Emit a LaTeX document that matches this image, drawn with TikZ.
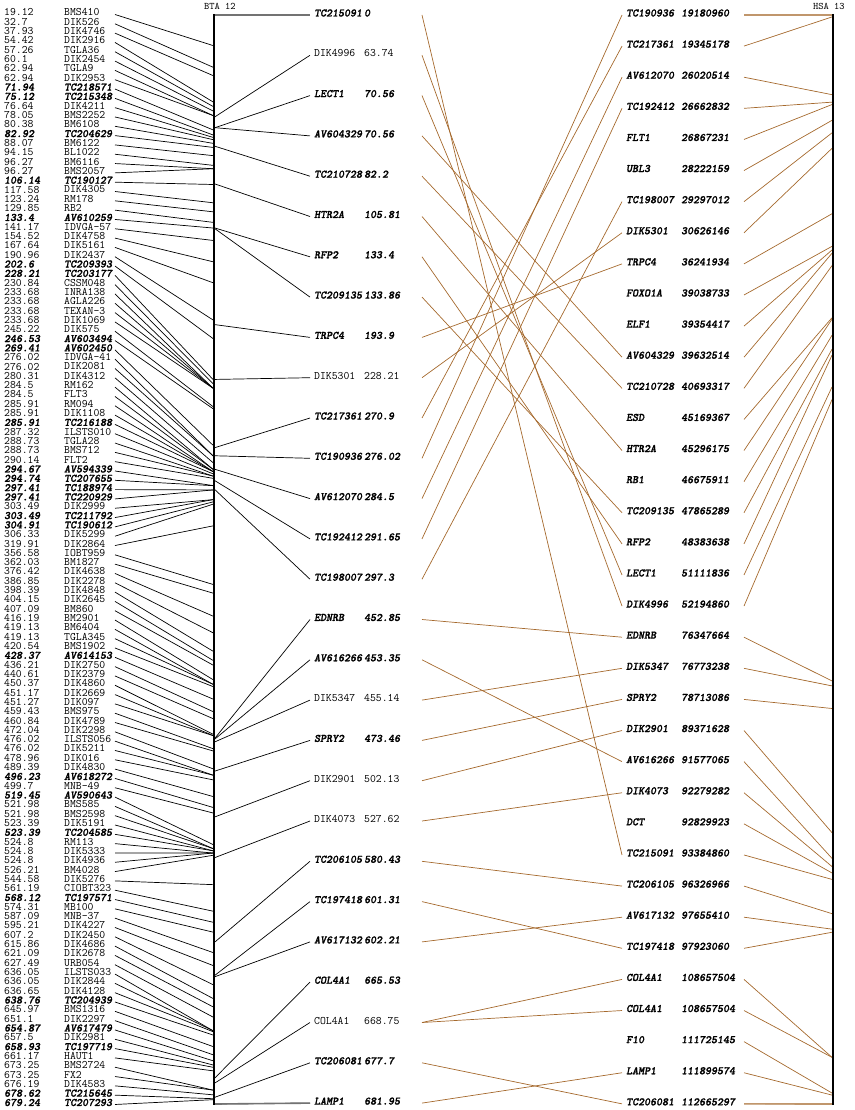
\documentclass[tikz,border=0pt]{standalone}
\usepackage{fontspec}
\usepackage{tikz}
\setmonofont{Latin Modern Mono}
\newfontfamily\bmono{lmmonolt10-boldoblique}[Extension=.otf, FakeBold=1.4]
\definecolor{brn}{RGB}{165,105,45}
\newcommand\mkfont[1]{\ifnum#1=1\relax\bmono\fi}
\tikzset{
  lab/.style={font=\ttfamily\fontsize{11.4}{12}\selectfont, inner sep=0pt, anchor=west},
  ttl/.style={font=\ttfamily\fontsize{10}{11}\selectfont, inner sep=0pt, anchor=west},
  blk/.style={black, line width=0.7pt},
  brl/.style={brn, line width=0.7pt},
  hzblk/.style={black!55, line width=1.6pt},
  hzbrn/.style={brn!70, line width=1.6pt},
  axisline/.style={black, line width=2.6pt}
}
\begin{document}
\begin{tikzpicture}[x=1pt,y=-1pt]
\useasboundingbox (0,0) rectangle (854,1110);
% axes
\coordinate (btaT) at (214,14);
\coordinate (btaB) at (214,1105);
\coordinate (hsaT) at (833,14);
\coordinate (hsaB) at (833,1105);
\node[ttl] (btalab) at (204,6) {BTA 12};
\node[ttl] (hsalab) at (813,6) {HSA 13};
% left column (BTA 12 markers)
\foreach \ii/\vv/\nn/\bb in {
1/19.12/BMS410/0, 2/32.7/DIK526/0, 3/37.93/DIK4746/0, 4/54.42/DIK2916/0,
5/57.26/TGLA36/0, 6/60.1/DIK2454/0, 7/62.94/TGLA9/0, 8/62.94/DIK2953/0,
9/71.94/TC218571/1, 10/75.12/TC215348/1, 11/76.64/DIK4211/0, 12/78.05/BMS2252/0,
13/80.38/BM6108/0, 14/82.92/TC204629/1, 15/88.07/BM6122/0, 16/94.15/BL1022/0,
17/96.27/BM6116/0, 18/96.27/BMS2057/0, 19/106.14/TC190127/1, 20/117.58/DIK4305/0,
21/123.24/RM178/0, 22/129.85/RB2/0, 23/133.4/AV610259/1, 24/141.17/IDVGA-57/0,
25/154.52/DIK4758/0, 26/167.64/DIK5161/0, 27/190.96/DIK2437/0, 28/202.6/TC209393/1,
29/228.21/TC203177/1, 30/230.84/CSSM048/0, 31/233.68/INRA138/0, 32/233.68/AGLA226/0,
33/233.68/TEXAN-3/0, 34/233.68/DIK1069/0, 35/245.22/DIK575/0, 36/246.53/AV603494/1,
37/269.41/AV602450/1, 38/276.02/IDVGA-41/0, 39/276.02/DIK2081/0, 40/280.31/DIK4312/0,
41/284.5/RM162/0, 42/284.5/FLT3/0, 43/285.91/RM094/0, 44/285.91/DIK1108/0,
45/285.91/TC216188/1, 46/287.32/ILSTS010/0, 47/288.73/TGLA28/0, 48/288.73/BMS712/0,
49/290.14/FLT2/0, 50/294.67/AV594339/1, 51/294.74/TC207655/1, 52/297.41/TC188974/1,
53/297.41/TC220929/1, 54/303.49/DIK2999/0, 55/303.49/TC211792/1, 56/304.91/TC190612/1,
57/306.33/DIK5299/0, 58/319.91/DIK2864/0, 59/356.58/IOBT959/0, 60/362.03/BM1827/0,
61/376.42/DIK4638/0, 62/386.85/DIK2278/0, 63/398.39/DIK4848/0, 64/404.15/DIK2645/0,
65/407.09/BM860/0, 66/416.19/BM2901/0, 67/419.13/BM6404/0, 68/419.13/TGLA345/0,
69/420.54/BMS1902/0, 70/428.37/AV614153/1, 71/436.21/DIK2750/0, 72/440.61/DIK2379/0,
73/450.37/DIK4860/0, 74/451.17/DIK2669/0, 75/451.27/DIK097/0, 76/459.43/BMS975/0,
77/460.84/DIK4789/0, 78/472.04/DIK2298/0, 79/476.02/ILSTS056/0, 80/476.02/DIK5211/0,
81/478.96/DIK016/0, 82/489.39/DIK4830/0, 83/496.23/AV618272/1, 84/499.7/MNB-49/0,
85/519.45/AV590643/1, 86/521.98/BMS585/0, 87/521.98/BMS2598/0, 88/523.39/DIK5191/0,
89/523.39/TC204585/1, 90/524.8/RM113/0, 91/524.8/DIK5333/0, 92/524.8/DIK4936/0,
93/526.21/BM4028/0, 94/544.58/DIK5276/0, 95/561.19/CIOBT323/0, 96/568.12/TC197571/1,
97/574.31/MB100/0, 98/587.09/MNB-37/0, 99/595.21/DIK4227/0, 100/607.2/DIK2450/0,
101/615.86/DIK4686/0, 102/621.09/DIK2678/0, 103/627.49/URB054/0, 104/636.05/ILSTS033/0,
105/636.05/DIK2844/0, 106/636.65/DIK4128/0, 107/638.76/TC204939/1, 108/645.97/BMS1316/0,
109/651.1/DIK2297/0, 110/654.87/AV617479/1, 111/657.5/DIK2981/0, 112/658.93/TC197719/1,
113/661.17/HAUT1/0, 114/673.25/BMS2724/0, 115/673.25/FX2/0, 116/676.19/DIK4583/0,
117/678.62/TC215645/1, 118/679.24/TC207293/1}
{
  \pgfmathsetmacro\yy{12.5+(\ii-1)*9.316}
  \pgfmathsetmacro\ya{15+\vv*1.5969}
  \node[lab] (lv\ii) at (4,\yy) {\mkfont{\bb}\vv};
  \node[lab] (ln\ii) at (64,\yy) {\mkfont{\bb}\nn};
  \coordinate (ls\ii) at (115,\yy+2);
  \coordinate (la\ii) at (213,\ya);
  \draw[blk] (ls\ii) -- (la\ii);
}
% middle column
\foreach \jj/\nn/\vv/\bb in {
1/TC215091/0/1, 2/DIK4996/63.74/0, 3/LECT1/70.56/1, 4/AV604329/70.56/1,
5/TC210728/82.2/1, 6/HTR2A/105.81/1, 7/RFP2/133.4/1, 8/TC209135/133.86/1,
9/TRPC4/193.9/1, 10/DIK5301/228.21/0, 11/TC217361/270.9/1, 12/TC190936/276.02/1,
13/AV612070/284.5/1, 14/TC192412/291.65/1, 15/TC198007/297.3/1, 16/EDNRB/452.85/1,
17/AV616266/453.35/1, 18/DIK5347/455.14/0, 19/SPRY2/473.46/1, 20/DIK2901/502.13/0,
21/DIK4073/527.62/0, 22/TC206105/580.43/1, 23/TC197418/601.31/1, 24/AV617132/602.21/1,
25/COL4A1/665.53/1, 26/COL4A1/668.75/0, 27/TC206081/677.7/1, 28/LAMP1/681.95/1}
{
  \pgfmathsetmacro\yy{13+(\jj-1)*40.3}
  \pgfmathsetmacro\ya{15+\vv*1.5969}
  \node[lab] (mn\jj) at (314,\yy) {\mkfont{\bb}\nn};
  \node[lab] (mv\jj) at (364,\yy) {\mkfont{\bb}\vv};
  \coordinate (ma\jj) at (215,\ya);
  \coordinate (ms\jj) at (310,\yy+2);
  \coordinate (mr\jj) at (422,\yy+2);
  \draw[blk] (ma\jj) -- (ms\jj);
}
% right column (HSA 13)
\foreach \kk/\nn/\dd/\pp in {
1/TC190936/19180960/19.180960, 2/TC217361/19345178/19.345178,
3/AV612070/26020514/26.020514, 4/TC192412/26662832/26.662832,
5/FLT1/26867231/26.867231, 6/UBL3/28222159/28.222159,
7/TC198007/29297012/29.297012, 8/DIK5301/30626146/30.626146,
9/TRPC4/36241934/36.241934, 10/FOXO1A/39038733/39.038733,
11/ELF1/39354417/39.354417, 12/AV604329/39632514/39.632514,
13/TC210728/40693317/40.693317, 14/ESD/45169367/45.169367,
15/HTR2A/45296175/45.296175, 16/RB1/46675911/46.675911,
17/TC209135/47865289/47.865289, 18/RFP2/48383638/48.383638,
19/LECT1/51111836/51.111836, 20/DIK4996/52194860/52.194860,
21/EDNRB/76347664/76.347664, 22/DIK5347/76773238/76.773238,
23/SPRY2/78713086/78.713086, 24/DIK2901/89371628/89.371628,
25/AV616266/91577065/91.577065, 26/DIK4073/92279282/92.279282,
27/DCT/92829923/92.829923, 28/TC215091/93384860/93.384860,
29/TC206105/96326966/96.326966, 30/AV617132/97655410/97.655410,
31/TC197418/97923060/97.923060, 32/COL4A1/108657504/108.657504,
33/COL4A1/108657504/108.657504, 34/F10/111725145/111.725145,
35/LAMP1/111899574/111.899574, 36/TC206081/112665297/112.665297}
{
  \pgfmathsetmacro\yy{13+(\kk-1)*31.11}
  \pgfmathsetmacro\ya{15+(\pp-19.18096)*11.649}
  \node[lab] (rn\kk) at (626,\yy) {\mkfont{1}\nn};
  \node[lab] (rv\kk) at (681,\yy) {\mkfont{1}\dd};
  \coordinate (rl\kk) at (622,\yy+2);
  \coordinate (rs\kk) at (744,\yy+2);
  \coordinate (ra\kk) at (832,\ya);
  \draw[brl] (rs\kk) -- (ra\kk);
}
% horizontal end connectors drawn lighter and thicker
\draw[hzblk] (ma1) -- (ms1);
\draw[hzblk] (ma28) -- (ms28);
\draw[hzbrn] (rs1) -- (ra1);
\draw[hzbrn] (rs36) -- (ra36);
% axes on top
\draw[axisline] (btaT) -- (btaB);
\draw[axisline] (hsaT) -- (hsaB);
% homology links
\foreach \jj/\kk in {1/28, 2/20, 3/19, 4/12, 5/13, 6/15, 7/18, 8/17, 9/9, 10/8,
  11/2, 12/1, 13/3, 14/4, 15/7, 16/21, 17/25, 18/22, 19/23, 20/24, 21/26,
  22/29, 23/31, 24/30, 26/32, 26/33, 27/36, 28/35}
{
  \draw[brl] (mr\jj) -- (rl\kk);
}
\end{tikzpicture}
\end{document}
